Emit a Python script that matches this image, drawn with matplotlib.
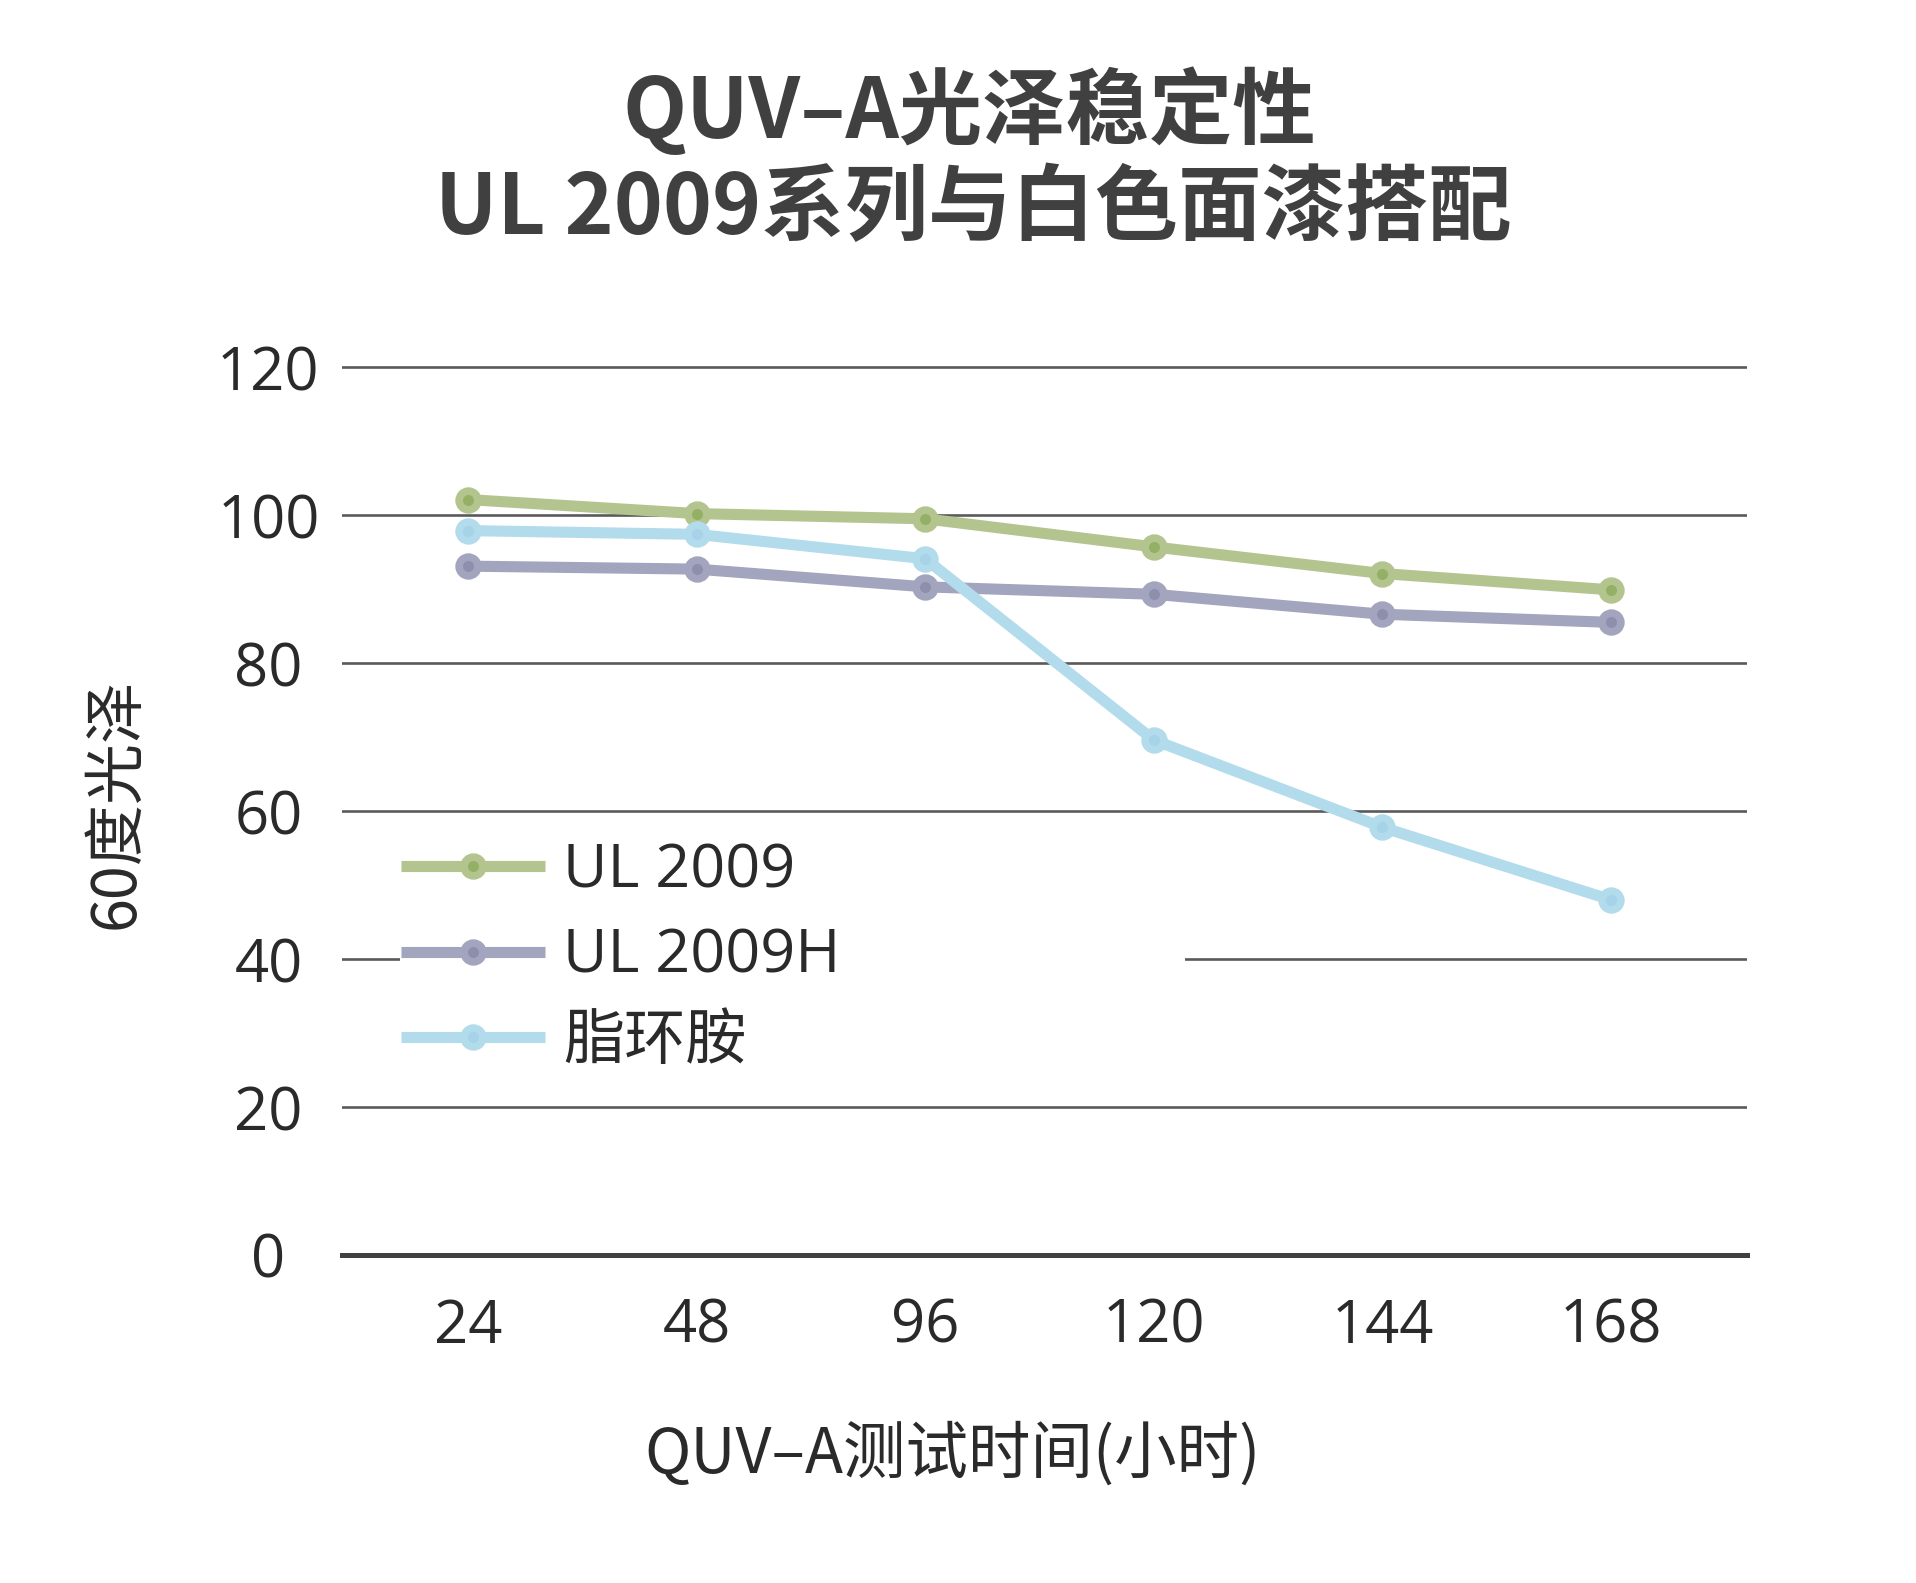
import matplotlib
matplotlib.use("Agg")
import matplotlib.pyplot as plt
from matplotlib.patches import Rectangle

# ---- data ----
hours = ["24", "48", "96", "120", "144", "168"]
ul2009 = [102.1, 100.2, 99.5, 95.7, 92.1, 89.9]
ul2009h = [93.1, 92.7, 90.3, 89.3, 86.6, 85.5]
cycloamine = [97.9, 97.4, 94.1, 69.6, 57.8, 48.0]
series_names = ["UL 2009", "UL 2009H", "脂环胺"]
yticks = [0, 20, 40, 60, 80, 100, 120]

title_lines = ["QUV–A光泽稳定性", "UL 2009系列与白色面漆搭配"]
xlabel = "QUV–A测试时间(小时)"
ylabel = "60度光泽"

CJK = ["Noto Sans CJK SC", "DejaVu Sans"]
LAT = ["Open Sans", "Noto Sans CJK SC", "DejaVu Sans"]

fig = plt.figure(figsize=(19.16, 15.83), dpi=100)
ax = fig.add_axes([0.1785, 0.2044, 0.7333, 0.5665])

# grid lines
for v in yticks:
    if v == 0:
        ax.axhline(v, color="#404040", lw=3.6, zorder=1, clip_on=False)
    else:
        ax.axhline(v, color="#5a5a5a", lw=1.9, zorder=0.5)

# white patch behind legend (covers gridline)
ax.add_patch(Rectangle((0.041, 0.2056), 0.559, 0.272, transform=ax.transAxes,
                       fc="white", ec="none", zorder=0.8))

xs = list(range(len(hours)))
styles = [
    (ul2009, "#b3c48f", "#93b065"),
    (ul2009h, "#a3a4bd", "#8d8fad"),
    (cycloamine, "#b2dbec", "#a6d3e8"),
]
handles = []
for (vals, lc, mc), name in zip(styles, series_names):
    h, = ax.plot(xs, vals, color=lc, lw=8.0, marker="o", ms=13.5,
                 mfc=mc, mec=lc, mew=5.5, label=name, zorder=3,
                 solid_capstyle="butt")
    handles.append(h)

ax.set_xlim(-0.551, 5.595)
ax.set_ylim(-0.6, 120.6)
for s in ax.spines.values():
    s.set_visible(False)

ax.set_xticks(xs)
ax.set_xticklabels(hours, fontsize=43, family=LAT, color="#2a2a2a")
ax.set_yticks(yticks)
ax.set_yticklabels([str(v) for v in yticks], fontsize=43, family=LAT, color="#2a2a2a")
ax.tick_params(axis="x", length=0, pad=27)
ax.tick_params(axis="y", length=0, pad=53)
for t in ax.get_yticklabels():
    t.set_ha("center")

leg = ax.legend(handles=handles, loc="center left",
                bbox_to_anchor=(0.2093, 0.3955), bbox_transform=fig.transFigure,
                frameon=False, prop={"family": LAT, "size": 44},
                handlelength=2.35, handletextpad=0.3, labelspacing=0.42,
                borderpad=0, borderaxespad=0, numpoints=1)
for t in leg.get_texts():
    t.set_color("#2a2a2a")

fig.text(0.506, 0.9295, title_lines[0], ha="center", va="center",
         fontsize=60, fontweight="bold", family=CJK, color="#404040")
fig.text(0.508, 0.8676, title_lines[1], ha="center", va="center",
         fontsize=60, fontweight="bold", family=CJK, color="#404040")

fig.text(0.0605, 0.4927, ylabel, rotation=90, ha="center", va="center",
         fontsize=44, family=CJK, color="#2a2a2a")
fig.text(0.497, 0.0815, xlabel, ha="center", va="center",
         fontsize=45, family=CJK, color="#2a2a2a")

fig.savefig("out.png", dpi=100, facecolor="white")
